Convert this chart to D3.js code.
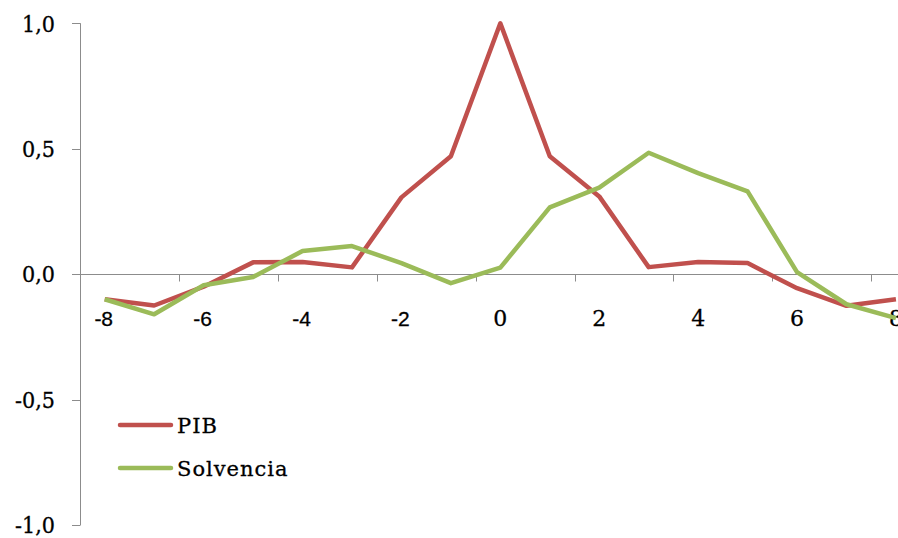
<!DOCTYPE html>
<html>
<head>
<meta charset="utf-8">
<script src="https://cdn.jsdelivr.net/npm/d3@7"></script>
<style>
  html, body { margin: 0; padding: 0; background: #fff; }
  svg { display: block; }
</style>
</head>
<body>
<svg id="chart" width="898" height="538"></svg>
<script>
const categories = [-8, -7, -6, -5, -4, -3, -2, -1, 0, 1, 2, 3, 4, 5, 6, 7, 8];
const pib =        [-0.10, -0.125, -0.05, 0.047, 0.048, 0.027, 0.306, 0.47, 1.0, 0.47, 0.31, 0.028, 0.048, 0.044, -0.056, -0.126, -0.10];
const solvencia =  [-0.10, -0.16, -0.044, -0.011, 0.092, 0.112, 0.044, -0.036, 0.026, 0.266, 0.345, 0.484, 0.403, 0.33, 0.008, -0.12, -0.175];
const yTicks = [1.0, 0.5, 0.0, -0.5, -1.0];
const xLabels = [-8, -6, -4, -2, 0, 2, 4, 6, 8];
const seriesNames = ["PIB", "Solvencia"];
const seriesColors = ["#C0504D", "#9BBB59"];

const svg = d3.select("#chart");
const left = 80, step = 49.45;
const x = d3.scaleBand().domain(categories).range([left, left + step * categories.length]).paddingInner(0).paddingOuter(0);
const y = d3.scaleLinear().domain([-1, 1]).range([525, 23.3]);
const cx = c => x(c) + x.bandwidth() / 2;
const axisColor = "#8c8c8c";
const fmt = v => d3.format(".1f")(v).replace(".", ",").replace("−", "-");

// Y axis
svg.append("line").attr("x1", left + 0.5).attr("x2", left + 0.5)
  .attr("y1", y(1)).attr("y2", y(-1)).attr("stroke", axisColor).attr("stroke-width", 1);
yTicks.forEach(t => {
  svg.append("line").attr("x1", left - 8).attr("x2", left + 0.5)
    .attr("y1", Math.round(y(t)) + 0.5).attr("y2", Math.round(y(t)) + 0.5)
    .attr("stroke", axisColor).attr("stroke-width", 1);
  svg.append("text").attr("x", 55).attr("y", y(t)).attr("dy", "0.36em")
    .attr("text-anchor", "end")
    .attr("font-family", "'DejaVu Serif Condensed', 'DejaVu Serif', serif")
    .attr("font-size", 23).attr("fill", "#000")
    .attr("stroke", "#000").attr("stroke-width", 0.3)
    .text(fmt(t));
});

// X axis (at y = 0)
const y0 = Math.round(y(0)) + 0.5;
svg.append("line").attr("x1", left).attr("x2", 898).attr("y1", y0).attr("y2", y0)
  .attr("stroke", axisColor).attr("stroke-width", 1);
categories.forEach((c, i) => {
  if (i >= 2 && i % 2 === 0) {
    const tx = Math.round(x(c)) + 0.5;
    svg.append("line").attr("x1", tx).attr("x2", tx).attr("y1", y0).attr("y2", y0 + 7)
      .attr("stroke", axisColor).attr("stroke-width", 1);
  }
});
xLabels.forEach(c => {
  const neg = c < 0;
  svg.append("text").attr("x", cx(c) - (neg ? 1 : 0)).attr("y", 318).attr("dy", "0.36em")
    .attr("text-anchor", "middle")
    .attr("font-family", neg ? "'Liberation Sans', Arial, sans-serif" : "'DejaVu Serif', serif")
    .attr("font-size", neg ? 21 : 22).attr("fill", "#000")
    .attr("stroke", "#000").attr("stroke-width", 0.3)
    .text(neg ? "-" + Math.abs(c) : String(c));
});

// Lines
const line = d3.line().x((d, i) => cx(categories[i])).y(d => y(d));
[pib, solvencia].forEach((s, k) => {
  svg.append("path").datum(s).attr("d", line)
    .attr("fill", "none").attr("stroke", seriesColors[k]).attr("stroke-width", 4.5)
    .attr("stroke-linejoin", "round").attr("stroke-linecap", "butt");
});

// Legend
seriesNames.forEach((name, k) => {
  const ly = 425 + k * 43;
  svg.append("line").attr("x1", 120).attr("x2", 171).attr("y1", ly).attr("y2", ly)
    .attr("stroke", seriesColors[k]).attr("stroke-width", 4.5).attr("stroke-linecap", "round");
  svg.append("text").attr("x", 177).attr("y", ly).attr("dy", "0.36em")
    .attr("font-family", "'DejaVu Serif', serif").attr("font-size", 21)
    .attr("letter-spacing", 1).attr("fill", "#000")
    .attr("stroke", "#000").attr("stroke-width", 0.3)
    .text(name);
});
</script>
</body>
</html>
